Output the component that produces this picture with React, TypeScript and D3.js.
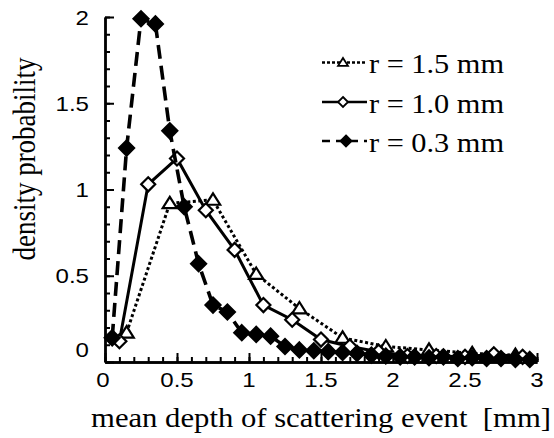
import React, { useRef, useEffect } from 'react';
import * as d3 from 'd3';

// r = 0.3 mm (black diamonds, dashed)
const xSmall = [0.05, 0.15, 0.25, 0.35, 0.45, 0.55, 0.65, 0.75, 0.85, 0.95, 1.05, 1.15, 1.25, 1.35, 1.45,
  1.55, 1.65, 1.75, 1.85, 1.95, 2.05, 2.15, 2.25, 2.35, 2.45, 2.55, 2.65, 2.75, 2.85, 2.95];
const ySmall = [0.14, 1.24, 1.99, 1.96, 1.34, 0.9, 0.57, 0.33, 0.29, 0.17, 0.16, 0.15, 0.09, 0.07, 0.065,
  0.06, 0.055, 0.05, 0.04, 0.035, 0.03, 0.03, 0.025, 0.03, 0.02, 0.025, 0.02, 0.02, 0.015, 0.015];

// r = 1.0 mm (white diamonds, solid)
const xMid = [0.1, 0.3, 0.5, 0.7, 0.9, 1.1, 1.3, 1.5, 1.7, 1.9, 2.1, 2.3, 2.5, 2.7, 2.9];
const yMid = [0.12, 1.03, 1.18, 0.88, 0.65, 0.33, 0.245, 0.13, 0.09, 0.06, 0.035, 0.035, 0.03, 0.045, 0.03];

// r = 1.5 mm (white triangles, dotted)
const xLarge = [0.15, 0.45, 0.75, 1.05, 1.35, 1.65, 1.95, 2.25, 2.55, 2.85];
const yLarge = [0.17, 0.92, 0.94, 0.51, 0.31, 0.14, 0.09, 0.07, 0.05, 0.04];

const xTickLabels = ['0', '0.5', '1', '1.5', '2', '2.5', '3'];
const yTickLabels = ['0', '0.5', '1', '1.5', '2'];
const legendLabels = ['r = 1.5 mm', 'r = 1.0 mm', 'r = 0.3 mm'];

const SX = 1.145; // the original picture is a bit wider than tall

const Chart = () => {
  const ref = useRef(null);

  useEffect(() => {
    const svg = d3.select(ref.current);
    svg.selectAll('*').remove();

    const x = d3.scaleLinear().domain([0, 3]).range([105, 537]);
    const y = d3.scaleLinear().domain([0, 2]).range([362, 17]);

    const sans = 'Liberation Sans, Arial, sans-serif';
    const serif = 'Liberation Serif, Times New Roman, serif';

    // minor + major ticks, pointing inward
    const xMinor = d3.axisBottom(x).tickValues(d3.range(0, 3.001, 0.1)).tickSizeInner(-5).tickSizeOuter(0).tickFormat(() => '');
    const yMinor = d3.axisLeft(y).tickValues(d3.range(0, 2.001, 0.1)).tickSizeInner(-5).tickSizeOuter(0).tickFormat(() => '');
    const xMajor = d3.axisBottom(x).tickValues(xTickLabels.map(Number)).tickSizeInner(-9).tickSizeOuter(0).tickFormat(() => '');
    const yMajor = d3.axisLeft(y).tickValues(yTickLabels.map(Number)).tickSizeInner(-9).tickSizeOuter(0).tickFormat(() => '');

    [[xMinor, 'x'], [xMajor, 'x'], [yMinor, 'y'], [yMajor, 'y']].forEach(([ax, k]: any) => {
      const g = svg.append('g')
        .attr('transform', k === 'x' ? `translate(0,${y(0)})` : `translate(${x(0)},0)`)
        .call(ax);
      g.selectAll('line').attr('stroke', '#000').attr('stroke-width', 2);
      g.select('.domain').attr('stroke', '#000').attr('stroke-width', 2.4);
    });

    // tick labels
    svg.append('g').selectAll('text').data(xTickLabels).enter().append('text')
      .attr('transform', (d) => `translate(${x(+d) - (d === '0' ? 2 : 0)},387) scale(${SX},1)`)
      .attr('text-anchor', 'middle')
      .style('font-family', sans).style('font-size', '21px')
      .text((d) => d);

    svg.append('g').selectAll('text').data(yTickLabels).enter().append('text')
      .attr('transform', (d) => `translate(89,${y(+d) + 7.5 - (d === '0' ? 13 : 0)}) scale(${SX},1)`)
      .attr('text-anchor', 'end')
      .style('font-family', sans).style('font-size', '21px')
      .text((d) => d);

    // axis titles
    svg.append('text')
      .attr('transform', `translate(321,427) scale(${SX},1)`)
      .attr('text-anchor', 'middle')
      .style('font-family', serif).style('font-size', '26.8px')
      .style('white-space', 'pre')
      .text('mean depth of scattering event  [mm]');

    svg.append('text')
      .attr('transform', `translate(35,159) rotate(-90) scale(1,${SX})`)
      .attr('text-anchor', 'middle')
      .style('font-family', serif).style('font-size', '27px')
      .text('density probability');

    const line = d3.line<[number, number]>().x((d) => x(d[0])).y((d) => y(d[1]));
    const diamond = (s: number) => `M0,${-s}L${s},0L0,${s}L${-s},0Z`;
    const tri = (s: number) => `M0,${-s}L${s * 1.1},${s * 0.75}L${-s * 1.1},${s * 0.75}Z`;

    const series = [
      { xs: xLarge, ys: yLarge, dash: '3,2.5', width: 3, marker: tri(6.5), fill: '#fff', lm: tri(4.5), ldash: '3,2' },
      { xs: xMid, ys: yMid, dash: null, width: 3, marker: diamond(7), fill: '#fff', lm: diamond(5), ldash: null },
      { xs: xSmall, ys: ySmall, dash: '14,7', width: 3.6, marker: diamond(7.5), fill: '#000', lm: diamond(5.5), ldash: '8,6' },
    ];

    series.forEach((s) => {
      const pts: [number, number][] = s.xs.map((v, i) => [v, s.ys[i]]);
      svg.append('path')
        .attr('d', line(pts))
        .attr('fill', 'none')
        .attr('stroke', '#000')
        .attr('stroke-width', s.width)
        .attr('stroke-dasharray', s.dash);
      svg.append('g').selectAll('path').data(pts).enter().append('path')
        .attr('d', s.marker)
        .attr('transform', (d) => `translate(${x(d[0])},${y(d[1])})`)
        .attr('fill', s.fill)
        .attr('stroke', '#000')
        .attr('stroke-width', 2.2);
    });

    // legend
    const baselines = [73, 112.5, 151.5];
    series.forEach((s, i) => {
      const ly = baselines[i] - 10.5;
      svg.append('line')
        .attr('x1', 322).attr('x2', 367).attr('y1', ly).attr('y2', ly)
        .attr('stroke', '#000').attr('stroke-width', 2.4)
        .attr('stroke-dasharray', s.ldash);
      svg.append('path')
        .attr('d', s.lm)
        .attr('transform', `translate(${i === 2 ? 346 : 343},${ly})`)
        .attr('fill', s.fill).attr('stroke', '#000').attr('stroke-width', 1.8);
      svg.append('text')
        .attr('transform', `translate(369,${baselines[i]}) scale(${SX},1)`)
        .style('font-family', serif).style('font-size', '26.5px')
        .text(legendLabels[i]);
    });
  }, []);

  return <svg ref={ref} width={554} height={438} style={{ display: 'block', background: '#fff' }} />;
};

export default function App() {
  return (
    <div style={{ position: 'absolute', left: 0, top: 0 }}>
      <Chart />
    </div>
  );
}
